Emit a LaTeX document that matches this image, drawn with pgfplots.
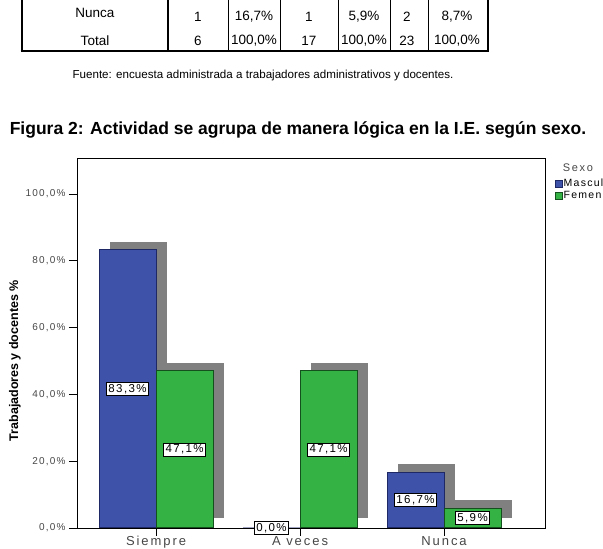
\documentclass[border=0pt]{standalone}
\usepackage{fontspec}
\setmainfont{Liberation Sans}
\newfontfamily\spss[LetterSpace=12]{Liberation Sans}
\newfontfamily\spsswide[LetterSpace=15]{Liberation Sans}
\usepackage{pgfplots}
\pgfplotsset{compat=1.18}
\definecolor{barblue}{RGB}{62,82,170}
\definecolor{bluedge}{RGB}{30,40,100}
\definecolor{bargreen}{RGB}{52,178,68}
\definecolor{greenedge}{RGB}{20,80,30}
\definecolor{shadowgray}{RGB}{128,128,128}
\definecolor{ticktext}{RGB}{70,70,70}
\begin{document}
\begin{tikzpicture}[x=1pt,y=1pt]
% axis sits at the origin; everything else is placed relative to it (axis lower-left = image pixel (77,528))
\useasboundingbox (-77,-21) rectangle (526,528);
\begin{scope}[shift={(-77,-21)}]
% ---- table fragment ----
\draw[line width=2.5pt] (22,552) -- (22,498);
\draw[line width=2pt] (168,552) -- (168,498);
\draw[line width=2.5pt] (488,552) -- (488,498);
\foreach \xx in {228,280,338,390,428} \draw[line width=0.8pt] (\xx,552) -- (\xx,498);
\draw[line width=2.5pt] (20.75,498) -- (489.25,498);
\begin{scope}[font=\fontsize{13.5}{15}\selectfont]
\node at (95,536) {Nunca};
\node at (198,532) {1};
\node at (254,532) {16,7\%};
\node at (309,532) {1};
\node at (364,532) {5,9\%};
\node at (407,532) {2};
\node at (457,532) {8,7\%};
\node at (95,508) {Total};
\node at (198,508) {6};
\node at (254,508) {100,0\%};
\node at (309,508) {17};
\node at (364,508) {100,0\%};
\node at (407,508) {23};
\node at (457,508) {100,0\%};
\end{scope}
\node[font=\fontsize{11.6}{13}\selectfont] at (263,473) {Fuente: encuesta administrada a trabajadores administrativos y docentes.};
\node[font=\fontsize{17.5}{19}\selectfont\bfseries] at (298,419) {Figura 2: Actividad se agrupa de manera lógica en la I.E. según sexo.};
% legend title
\node[font=\spsswide\fontsize{11}{12}\selectfont, text=ticktext] at (578,381) {Sexo};
\end{scope}
% ---- chart ----
\begin{axis}[
  width=468pt, height=370pt, scale only axis,
  xmin=-0.549, xmax=2.701, ymin=0, ymax=110.8,
  clip=false,
  xtick={0,1,2}, xticklabels={Siempre,A veces,Nunca},
  ytick={0,20,40,60,80,100},
  yticklabels={{0,0\%},{20,0\%},{40,0\%},{60,0\%},{80,0\%},{100,0\%}},
  tick pos=left, tick align=outside, major tick length=8pt,
  tick style={black, line width=0.8pt},
  axis line style={line width=0.9pt},
  xticklabel style={font=\spsswide\fontsize{13}{14}\selectfont, text=ticktext, yshift=3pt},
  yticklabel style={font=\spss\fontsize{10}{11}\selectfont, text=ticktext},
  ylabel={Trabajadores y docentes \%},
  every axis y label/.style={at={(axis description cs:-0.1325,0.452)}, rotate=90, anchor=center, font=\fontsize{12.5}{14}\selectfont\bfseries},
  legend style={at={(axis description cs:1,1)}, anchor=north west, xshift=10pt, yshift=-20pt, draw=none, fill=none, inner sep=0pt, row sep=0.5pt, font=\spss\fontsize{10.5}{11}\selectfont, nodes={inner sep=1pt}},
  legend cell align=left,
  legend image code/.code={\draw[#1, line width=0.5pt] (0pt,-3.5pt) rectangle (7pt,3.5pt);},
]
% shadows
\addplot[forget plot, fill=shadowgray, draw=none] coordinates {(-0.3194,3) (0.0764,3) (0.0764,85.7) (-0.3194,85.7)} -- cycle;
\addplot[forget plot, fill=shadowgray, draw=none] coordinates {(0.0764,3) (0.4722,3) (0.4722,49.5) (0.0764,49.5)} -- cycle;
\addplot[forget plot, fill=shadowgray, draw=none] coordinates {(1.0764,3) (1.4722,3) (1.4722,49.5) (1.0764,49.5)} -- cycle;
\addplot[forget plot, fill=shadowgray, draw=none] coordinates {(1.6806,3) (2.0764,3) (2.0764,19.1) (1.6806,19.1)} -- cycle;
\addplot[forget plot, fill=shadowgray, draw=none] coordinates {(2.0764,3) (2.4722,3) (2.4722,8.3) (2.0764,8.3)} -- cycle;
% bars
\addplot[ybar, bar width=57pt, bar shift=-28.5pt, fill=barblue, draw=bluedge, line width=1pt] coordinates {(0,83.3) (1,0) (2,16.7)};
\addlegendentry{Masculino}
\addplot[ybar, bar width=57pt, bar shift=28.5pt, fill=bargreen, draw=greenedge, line width=1pt] coordinates {(0,47.1) (1,47.1) (2,5.9)};
\addlegendentry{Femenino}
% value labels
\addplot[forget plot, draw=none, mark=none, point meta=explicit symbolic, nodes near coords,
  nodes near coords style={anchor=center, fill=white, draw=black, line width=0.6pt, inner sep=1.8pt, text=black, font=\spss\fontsize{11.5}{12}\selectfont}]
  coordinates {(-0.198,41.65) [83,3\%] (0.198,23.55) [47,1\%] (0.802,0) [0,0\%] (1.198,23.55) [47,1\%] (1.802,8.35) [16,7\%] (2.198,2.95) [5,9\%]};
\end{axis}
\end{tikzpicture}
\end{document}
